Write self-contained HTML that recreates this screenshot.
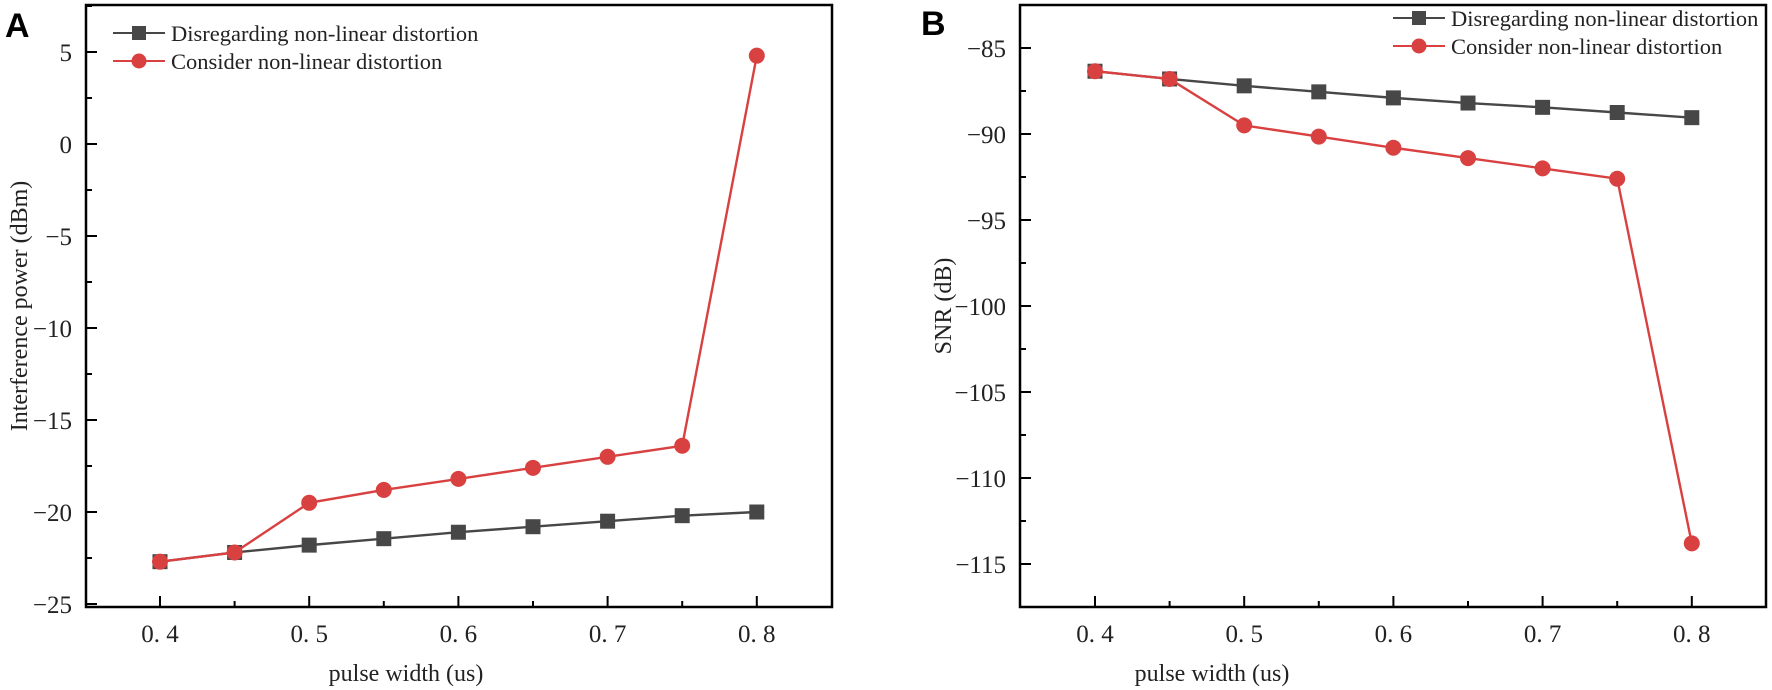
<!DOCTYPE html>
<html><head><meta charset="utf-8"><style>
html,body{margin:0;padding:0;background:#fff}
svg{display:block}
text{font-family:"Liberation Serif","Noto Serif CJK SC",serif;fill:#222}
</style></head><body>
<svg id="s" width="1772" height="690" xmlns="http://www.w3.org/2000/svg">
<text x="5" y="37" style="font-family:'Liberation Sans',sans-serif;font-weight:bold;font-size:34px;fill:#000">A</text>
<text x="921" y="35" style="font-family:'Liberation Sans',sans-serif;font-weight:bold;font-size:34px;fill:#000">B</text>
<text transform="translate(27,306) rotate(-90)" text-anchor="middle" font-size="24">Interference power (dBm)</text>
<text transform="translate(951,306) rotate(-90)" text-anchor="middle" font-size="24">SNR (dB)</text>
<text x="406" y="681" text-anchor="middle" font-size="24">pulse width (us)</text>
<text x="1212" y="681" text-anchor="middle" font-size="24">pulse width (us)</text>
<g id="g"></g>
</svg>
<script>
const g=document.getElementById('g');let h='';
const K='#474747',R='#d94141';
function plot(o){
 const {L,Rt,T,B,x0,dx,y0,yv0,py,yt,ys,ye,ym,k,r,lx,ly}=o;
 const X=i=>x0+dx*i, Y=v=>y0-(v-yv0)*py;
 h+=`<rect x="${L}" y="${T}" width="${Rt-L}" height="${B-T}" fill="none" stroke="#000" stroke-width="2.5"/>`;
 for(let i=0;i<9;i++){const x=X(i),len=i%2?6:11;h+=`<line x1="${x}" y1="${B}" x2="${x}" y2="${B-len}" stroke="#000" stroke-width="2"/>`;
  if(i%2==0)h+=`<text x="${x}" y="${B+35}" text-anchor="middle" font-size="25">0. ${4+i/2}</text>`;}
 for(let v=ys;v<=ye+0.01;v+=ym){const y=Y(v),maj=Math.abs(v/yt-Math.round(v/yt))<0.01;
  h+=`<line x1="${L}" y1="${y}" x2="${L+(maj?11:6)}" y2="${y}" stroke="#000" stroke-width="2"/>`;
  if(maj)h+=`<text x="${L-14}" y="${y+9}" text-anchor="end" font-size="25">${v<0?'−'+(-v):v}</text>`;}
 const line=(d,c)=>h+=`<polyline points="${d.map((v,i)=>X(i)+','+Y(v)).join(' ')}" fill="none" stroke="${c}" stroke-width="2.4"/>`;
 line(k,K);k.forEach((v,i)=>h+=`<rect x="${X(i)-7.5}" y="${Y(v)-7.5}" width="15" height="15" fill="${K}"/>`);
 line(r,R);r.forEach((v,i)=>h+=`<circle cx="${X(i)}" cy="${Y(v)}" r="8" fill="${R}"/>`);
 h+=`<line x1="${lx}" y1="${ly}" x2="${lx+52}" y2="${ly}" stroke="${K}" stroke-width="2"/><rect x="${lx+19}" y="${ly-7}" width="14" height="14" fill="${K}"/>`;
 h+=`<line x1="${lx}" y1="${ly+28}" x2="${lx+52}" y2="${ly+28}" stroke="${R}" stroke-width="2"/><circle cx="${lx+26}" cy="${ly+28}" r="7.5" fill="${R}"/>`;
 h+=`<text x="${lx+58}" y="${ly+8}" font-size="22.5">Disregarding non-linear distortion</text>`;
 h+=`<text x="${lx+58}" y="${ly+36}" font-size="22.5">Consider non-linear distortion</text>`;
}
plot({L:86,Rt:832,T:5,B:607,x0:160,dx:74.6,y0:144,yv0:0,py:18.4,yt:5,ys:-25,ye:7.5,ym:2.5,
 k:[-22.7,-22.2,-21.8,-21.45,-21.1,-20.8,-20.5,-20.2,-20.0],
 r:[-22.7,-22.2,-19.5,-18.8,-18.2,-17.6,-17.0,-16.4,4.8],lx:113,ly:33});
plot({L:1020,Rt:1766,T:5,B:607,x0:1095,dx:74.6,y0:48,yv0:-85,py:17.2,yt:5,ys:-117.5,ye:-82.5,ym:2.5,
 k:[-86.35,-86.8,-87.2,-87.55,-87.9,-88.2,-88.45,-88.75,-89.05],
 r:[-86.35,-86.8,-89.5,-90.15,-90.8,-91.4,-92.0,-92.6,-113.8],lx:1393,ly:18});
g.innerHTML=h;
</script>
</body></html>
